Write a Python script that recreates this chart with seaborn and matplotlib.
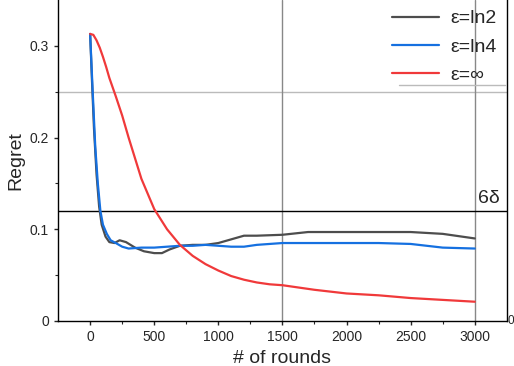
import numpy as np
import pandas as pd
import matplotlib
matplotlib.use("Agg")
import matplotlib.pyplot as plt
import seaborn as sns

# values
rounds_ln2 = [0, 15, 30, 50, 70, 90, 120, 150, 190, 230, 280, 350, 420, 500, 560, 620,
              700, 800, 900, 1000, 1100, 1200, 1300, 1500, 1700, 2000, 2500, 2750, 3000]
regret_ln2 = [0.313, 0.26, 0.21, 0.16, 0.125, 0.105, 0.092, 0.086, 0.085, 0.088, 0.086,
              0.080, 0.076, 0.074, 0.074, 0.078, 0.082, 0.083, 0.083, 0.085, 0.089,
              0.093, 0.093, 0.094, 0.097, 0.097, 0.097, 0.095, 0.090]

rounds_ln4 = [0, 20, 40, 60, 80, 100, 130, 160, 200, 250, 300, 400, 500, 600, 700, 800,
              900, 1000, 1100, 1200, 1300, 1500, 1750, 2000, 2250, 2500, 2750, 3000]
regret_ln4 = [0.313, 0.25, 0.19, 0.15, 0.12, 0.105, 0.095, 0.088, 0.085, 0.081, 0.079,
              0.080, 0.080, 0.081, 0.082, 0.082, 0.083, 0.082, 0.081, 0.081, 0.083,
              0.085, 0.085, 0.085, 0.085, 0.084, 0.080, 0.079]

rounds_inf = [0, 25, 50, 75, 100, 125, 150, 200, 250, 300, 400, 500, 600, 700, 800, 900,
              1000, 1100, 1200, 1300, 1400, 1500, 1750, 2000, 2250, 2500, 2750, 3000]
regret_inf = [0.313, 0.312, 0.306, 0.298, 0.288, 0.277, 0.265, 0.245, 0.224, 0.200,
              0.155, 0.122, 0.100, 0.083, 0.071, 0.062, 0.055, 0.049, 0.045, 0.042,
              0.040, 0.039, 0.034, 0.030, 0.028, 0.025, 0.023, 0.021]

labels = ["ε=ln2", "ε=ln4", "ε=∞"]
colors = ["#4d4d4d", "#1570e0", "#f0393a"]
delta_line = 0.12

df = pd.concat([
    pd.DataFrame({"rounds": rounds_ln2, "regret": regret_ln2, "eps": labels[0]}),
    pd.DataFrame({"rounds": rounds_ln4, "regret": regret_ln4, "eps": labels[1]}),
    pd.DataFrame({"rounds": rounds_inf, "regret": regret_inf, "eps": labels[2]}),
], ignore_index=True)

sns.set_style("ticks")
plt.rcParams["font.family"] = ["Liberation Sans", "DejaVu Sans"]

fig = plt.figure(figsize=(5.14, 3.66), dpi=100)
ax = fig.add_axes([0.113, 0.123, 0.873, 0.877])

# reference lines
ax.axhline(0.25, color="#bbbbbb", lw=1, zorder=1)
ax.axvline(1500, color="#888888", lw=1, zorder=1)
ax.axvline(3000, color="#888888", lw=1, zorder=1)
ax.axhline(delta_line, color="black", lw=1, zorder=1)

sns.lineplot(data=df, x="rounds", y="regret", hue="eps", palette=colors,
             hue_order=labels, linewidth=1.6, ax=ax, zorder=3)

ax.text(0.985, delta_line + 0.004, "6δ", transform=ax.get_yaxis_transform(),
        ha="right", va="bottom", fontsize=14)
ax.text(1.002, 0, "0", transform=ax.transAxes, ha="left", va="center", fontsize=8.5)

ax.set_xlim(-250, 3250)
ax.set_ylim(0, 0.35)
ax.set_xticks([0, 500, 1000, 1500, 2000, 2500, 3000])
ax.set_xticks(np.arange(250, 3250, 500), minor=True)
ax.set_yticks([0, 0.1, 0.2, 0.3])
ax.set_yticklabels(["0", "0.1", "0.2", "0.3"])
ax.set_yticks([0.05, 0.15, 0.25], minor=True)
ax.tick_params(axis="both", which="major", labelsize=10, length=3, width=1, direction="out")
ax.tick_params(axis="both", which="minor", length=2, width=0.8, direction="out")

ax.set_xlabel("# of rounds", fontsize=14)
ax.set_ylabel("Regret", fontsize=14)

for s in ["left", "bottom", "right"]:
    ax.spines[s].set_color("black")
    ax.spines[s].set_linewidth(1)
ax.spines["top"].set_visible(False)

handles, _ = ax.get_legend_handles_labels()
ax.legend(handles, labels, loc="upper right", bbox_to_anchor=(1.0, 1.0),
          frameon=False, fontsize=14, handlelength=2.4, handletextpad=0.6,
          labelspacing=0.55, borderaxespad=0.1)
ax.plot([0.76, 0.995], [0.735, 0.735], transform=ax.transAxes, color="#bbbbbb", lw=1)

fig.savefig("out.png", dpi=100)
